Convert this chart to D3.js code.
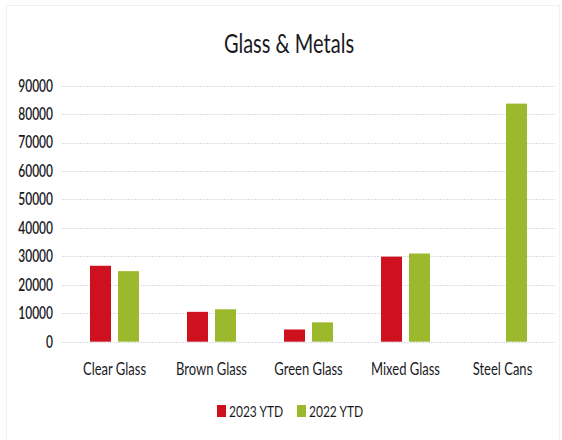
<!DOCTYPE html>
<html><head><meta charset="utf-8">
<script src="https://cdn.jsdelivr.net/npm/d3@7"></script>
<style>body{margin:0;background:#fff}svg{display:block}text{font-family:Lato,"Open Sans",sans-serif;fill:#1a1a24}</style>
</head><body><svg id="c" width="562" height="440"></svg>
<script>
const categories = ["Clear Glass","Brown Glass","Green Glass","Mixed Glass","Steel Cans"];
const seriesNames = ["2023 YTD","2022 YTD"];
const values2023 = [26700, 10500, 4300, 29900, null];
const values2022 = [24800, 11400, 6800, 31000, 83700];
const yTicks = [0,10000,20000,30000,40000,50000,60000,70000,80000,90000];
const colors = ["#cf101f","#9cb92e"];
const title = "Glass & Metals";

const svg = d3.select("#c");
const SY = 1.35;
svg.append("rect").attr("x",6.5).attr("y",5.5).attr("width",553).attr("height",440)
  .attr("fill","none").attr("stroke","#f0f0f5");

const y = d3.scaleLinear().domain([0,90000]).range([341.7,85.7]);
const x = d3.scaleBand().domain(categories).range([66,551]).paddingInner(0.495).paddingOuter(0.2475);
const xs = d3.scaleBand().domain(seriesNames).range([0,x.bandwidth()]).paddingInner(0.25);

// gridlines
svg.append("g").selectAll("line").data(yTicks).join("line")
  .attr("x1",62).attr("x2",555).attr("y1",d=>Math.round(y(d))+0.5).attr("y2",d=>Math.round(y(d))+0.5)
  .attr("stroke","#dcdce6").attr("stroke-dasharray","2,1");

// y tick labels
svg.append("g").selectAll("text").data(yTicks).join("text")
  .attr("transform",d=>`translate(53,${y(d)}) scale(1,${SY})`)
  .attr("text-anchor","end").attr("dy","0.36em").attr("font-size",12).attr("font-weight",600).text(d=>d);

// bars
const series = [values2023, values2022];
series.forEach((vals,si)=>{
  svg.append("g").selectAll("rect").data(categories.map((c,i)=>({c,v:vals[i]})).filter(d=>d.v!=null)).join("rect")
    .attr("x",d=>x(d.c)+xs(seriesNames[si])).attr("width",xs.bandwidth())
    .attr("y",d=>y(d.v)).attr("height",d=>y(0)-y(d.v)).attr("fill",colors[si]);
});

// category labels
svg.append("g").selectAll("text").data(categories).join("text")
  .attr("transform",d=>`translate(${x(d)+x.bandwidth()/2},375) scale(1,${SY})`)
  .attr("text-anchor","middle").attr("font-size",13).text(d=>d);

// title
svg.append("text").attr("transform",`translate(289,53) scale(1,${SY})`)
  .attr("text-anchor","middle").attr("font-size",20).text(title);

// legend
const lg = svg.append("g");
const legX = [217,297];
seriesNames.forEach((s,i)=>{
  lg.append("rect").attr("x",legX[i]).attr("y",405).attr("width",9).attr("height",12).attr("fill",colors[i]);
  lg.append("text").attr("transform",`translate(${legX[i]+12},416.5) scale(1,${SY})`)
    .attr("font-size",12).text(s);
});
</script></body></html>
